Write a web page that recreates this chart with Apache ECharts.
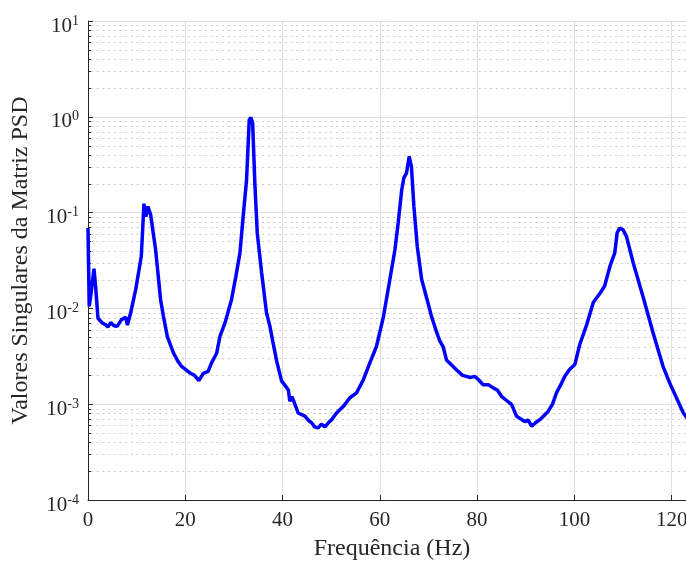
<!DOCTYPE html>
<html><head><meta charset="utf-8">
<script src="https://cdn.jsdelivr.net/npm/echarts@6/dist/echarts.min.js"></script>
<style>html,body{margin:0;padding:0;background:#fff}#c{width:686px;height:564px}</style>
</head><body><div id="c"></div><script>
// Frequency (Hz)
const freq = [0,0.25,0.6,1.23,1.6,2.05,2.95,3.5,4.1,4.66,5.34,6.0,6.85,7.74,8.1,8.77,9.8,10.96,11.5,11.9,12.33,12.88,13.9,14.93,15.5,16.3,17.6,18.5,19.25,20.1,20.96,21.9,22.8,23.7,24.7,25.4,26.45,27.13,28.15,29.5,30.4,31.24,31.9,32.6,33.15,33.5,33.85,34.3,34.8,35.7,36.7,37.4,38.0,38.8,39.8,40.8,41.2,41.5,41.9,42.2,43.2,44.6,45.3,45.97,46.6,47.3,48.0,48.7,49.4,50.1,51.1,52.5,53.8,55.2,56.6,57.95,59.3,60.7,62.06,63.1,63.77,64.5,64.94,65.5,66.03,66.5,67.0,67.7,68.6,69.9,70.6,71.6,72.3,73.0,73.7,74.7,76.1,77.0,77.8,78.6,79.5,80.3,81.2,82.3,83.3,84.2,85.0,86.0,87.1,88.1,89.0,89.8,90.5,91.2,92.0,92.9,94.6,95.5,96.3,97.2,98.0,99.0,100.1,101.1,102.5,103.9,105.2,106.2,107.3,108.3,108.8,109.3,110.0,110.7,112.1,114.1,116.2,118.2,119.6,121.0,122.4,123.5,125];
// First singular value of the PSD matrix
const sv = [0.069,0.0105,0.014,0.026,0.016,0.0079,0.00705,0.0068,0.0064,0.0071,0.0066,0.0065,0.0076,0.0081,0.0067,0.0090,0.0157,0.035,0.124,0.091,0.116,0.095,0.041,0.0123,0.0083,0.0051,0.0034,0.0028,0.00248,0.0023,0.00212,0.0020,0.00176,0.0021,0.0022,0.0027,0.0034,0.0051,0.0070,0.0123,0.0216,0.038,0.091,0.22,0.93,0.98,0.86,0.204,0.061,0.0234,0.0090,0.0065,0.0045,0.0028,0.00175,0.0015,0.0014,0.00107,0.0012,0.00111,0.00081,0.00075,0.00068,0.00064,0.00058,0.000565,0.00062,0.00058,0.00064,0.00069,0.00081,0.00095,0.00116,0.00131,0.0018,0.0027,0.0040,0.0080,0.020,0.041,0.078,0.173,0.23,0.26,0.386,0.30,0.116,0.044,0.020,0.0114,0.0083,0.0058,0.0046,0.0040,0.0029,0.00258,0.0022,0.0020,0.00195,0.0019,0.00195,0.0018,0.0016,0.0016,0.00148,0.0014,0.00121,0.0011,0.00099,0.00075,0.0007,0.00066,0.00068,0.00059,0.00064,0.00069,0.00084,0.001,0.00131,0.0016,0.00195,0.0023,0.0026,0.0042,0.0067,0.0116,0.0142,0.017,0.0274,0.038,0.062,0.069,0.066,0.0565,0.0298,0.0133,0.0055,0.0025,0.00166,0.00116,0.00081,0.00068,0.0005];
// Axis ticks
const xTickValues = [0,20,40,60,80,100,120];
const yDecades = [-4,-3,-2,-1,0,1];
const minorMultipliers = [2,3,4,5,6,7,8,9];

const X_MIN = 0, X_MAX = 125;
const minorVals = [];
for (let i = 0; i < yDecades.length - 1; i++) {
  for (const m of minorMultipliers) minorVals.push([X_MIN, m * Math.pow(10, yDecades[i])]);
}
const FONT = 'Liberation Serif';
const AX = '#262626';

const chart = echarts.init(document.getElementById('c'));
chart.setOption({
  animation: false,
  backgroundColor: '#ffffff',
  grid: {left: 88, top: 21, width: 608, height: 479, containLabel: false, outerBoundsMode: 'none'},
  xAxis: {
    type: 'value', min: X_MIN, max: X_MAX, interval: 20,
    name: 'Frequência (Hz)', nameLocation: 'middle', nameGap: 37,
    nameTextStyle: {fontFamily: FONT, fontSize: 24, color: '#262626'},
    axisLine: {show: true, lineStyle: {color: AX, width: 1}},
    axisTick: {show: true, inside: true, length: 5, lineStyle: {color: AX}},
    axisLabel: {fontFamily: FONT, fontSize: 21, color: '#262626', margin: 10, showMaxLabel: false,
      formatter: v => xTickValues.indexOf(v) >= 0 ? String(v) : ''},
    splitLine: {show: true, lineStyle: {color: '#dedede', width: 1}}
  },
  yAxis: {
    type: 'log', logBase: 10, min: Math.pow(10, yDecades[0]), max: Math.pow(10, yDecades[yDecades.length-1]),
    splitNumber: 5,
    name: 'Valores Singulares da Matriz PSD', nameLocation: 'middle', nameGap: 55,
    nameTextStyle: {fontFamily: FONT, fontSize: 24, color: '#262626'},
    axisLine: {show: true, lineStyle: {color: AX, width: 1}},
    axisTick: {show: true, inside: true, length: 5, lineStyle: {color: AX}},
    axisLabel: {
      margin: 9, color: '#262626', padding: [10, 0, 0, 0],
      formatter: v => '{b|10}{s|' + Math.round(Math.log10(v)) + '}',
      rich: {
        b: {fontFamily: FONT, fontSize: 21, color: '#262626'},
        s: {fontFamily: FONT, fontSize: 14, color: '#262626', verticalAlign: 'top', padding: [0, 0, 10, 0]}
      }
    },
    splitLine: {show: true, lineStyle: {color: '#dedede', width: 1}}
  },
  series: [
    {
      type: 'custom', silent: true, z: 1, clip: false,
      data: minorVals,
      renderItem: (params, api) => {
        const v = api.value(1);
        const p0 = api.coord([X_MIN, v]);
        const p1 = api.coord([X_MAX, v]);
        const y = Math.round(p0[1]) + 0.5;
        return {type: 'group', children: [
          {type: 'line', shape: {x1: p0[0] + 3, y1: y, x2: p1[0], y2: y},
           style: {stroke: '#cccccc', lineWidth: 1, lineDash: [2, 3.7]}},
          {type: 'line', shape: {x1: p0[0], y1: y, x2: p0[0] + 3, y2: y},
           style: {stroke: AX, lineWidth: 1}}
        ]};
      }
    },
    {
      type: 'line', z: 3, showSymbol: false, symbol: 'none', clip: true,
      lineStyle: {color: '#0000ff', width: 3.5},
      data: freq.map((f, i) => [f, sv[i]])
    }
  ]
});
</script></body></html>
